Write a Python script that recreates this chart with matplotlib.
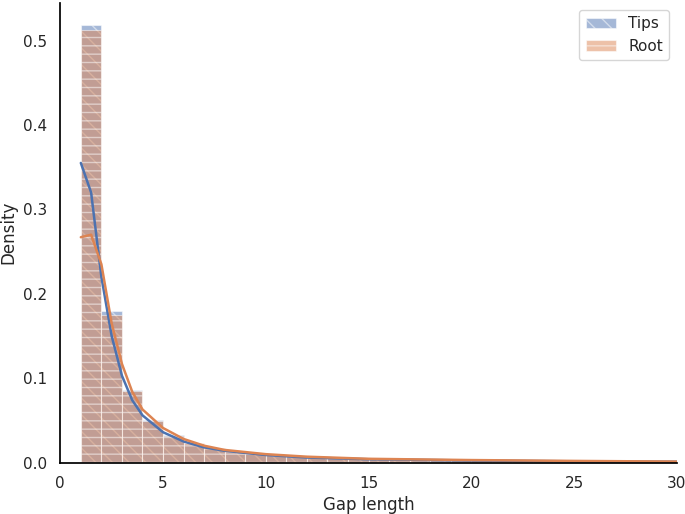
import matplotlib
matplotlib.use("Agg")
import matplotlib.pyplot as plt
import seaborn as sns
import numpy as np

sns.set_theme(style="white")
plt.rcParams['hatch.color'] = 'white'

bin_edges = list(range(1, 31))
tips_heights = [0.519, 0.180, 0.086, 0.050, 0.033, 0.022, 0.016, 0.013, 0.011, 0.009, 0.008, 0.007, 0.006, 0.005, 0.005,
                0.004, 0.004, 0.003, 0.003, 0.003, 0.002, 0.002, 0.002, 0.002, 0.002, 0.002, 0.001, 0.001, 0.001]
root_heights = [0.512, 0.175, 0.085, 0.049, 0.032, 0.023, 0.017, 0.014, 0.011, 0.009, 0.008, 0.007, 0.006, 0.005, 0.005,
                0.004, 0.004, 0.003, 0.003, 0.003, 0.002, 0.002, 0.002, 0.002, 0.002, 0.002, 0.001, 0.001, 0.001]
kde_x = [1, 1.5, 2, 2.5, 3, 3.5, 4, 5, 6, 7, 8, 10, 12, 15, 20, 25, 30]
tips_kde = [0.355, 0.32, 0.22, 0.15, 0.103, 0.074, 0.056, 0.036, 0.025, 0.018, 0.014, 0.009, 0.006, 0.004, 0.0025, 0.0015, 0.001]
root_kde = [0.267, 0.27, 0.235, 0.165, 0.117, 0.084, 0.063, 0.041, 0.028, 0.020, 0.015, 0.010, 0.007, 0.0045, 0.003, 0.002, 0.0012]

fig, ax = plt.subplots(figsize=(6.85, 5.14), dpi=100)
c0, c1 = sns.color_palette("deep")[0], sns.color_palette("deep")[1]
lefts = bin_edges[:-1]
ax.bar(lefts, tips_heights, width=1, align='edge', color=c0, alpha=0.5, hatch='\\\\', edgecolor='white', linewidth=0.8, label='Tips')
ax.bar(lefts, root_heights, width=1, align='edge', color=c1, alpha=0.5, hatch='--', edgecolor='white', linewidth=0.8, label='Root')
ax.plot(kde_x, tips_kde, color=c0, lw=1.8)
ax.plot(kde_x, root_kde, color=c1, lw=1.8)
ax.set_xlim(0, 30)
ax.set_ylim(0, 0.545)
ax.set_xlabel("Gap length")
ax.set_ylabel("Density")
sns.despine(ax=ax)
ax.spines['left'].set_color('black')
ax.spines['bottom'].set_color('black')
ax.legend(loc='upper right')
fig.subplots_adjust(left=0.088, right=0.988, bottom=0.1, top=0.995)
fig.savefig("out.png")
